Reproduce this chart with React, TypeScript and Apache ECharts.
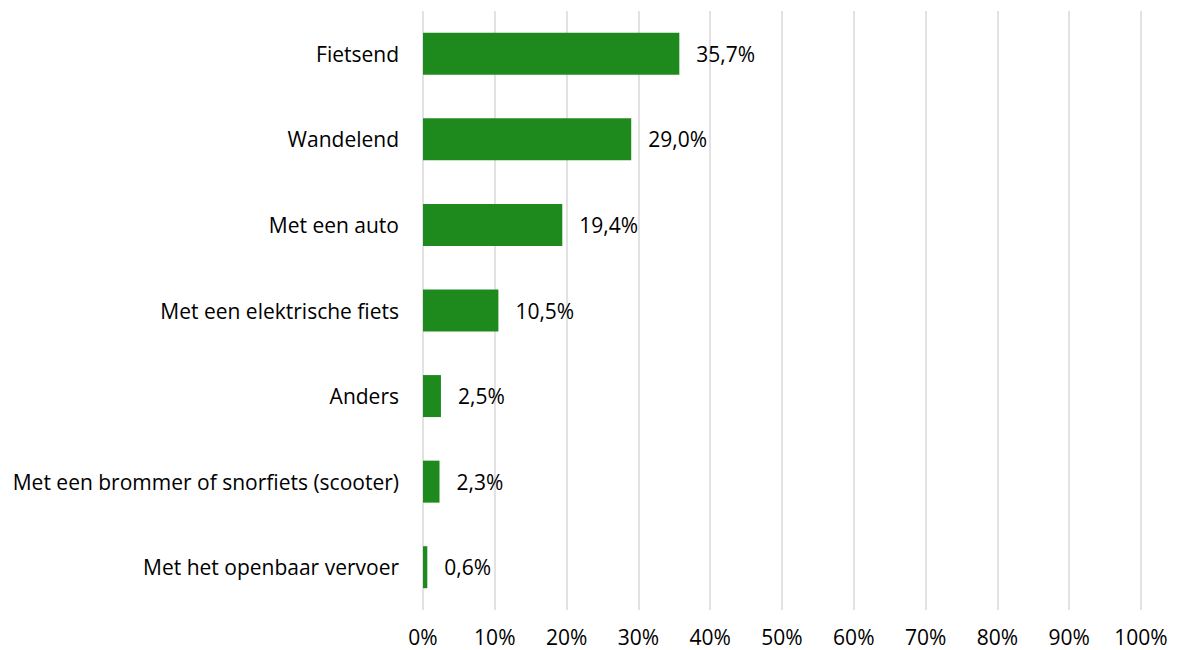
import React, { useEffect, useRef } from "react";
import * as echarts from "echarts";

const categories = [
  "Fietsend",
  "Wandelend",
  "Met een auto",
  "Met een elektrische fiets",
  "Anders",
  "Met een brommer of snorfiets (scooter)",
  "Met het openbaar vervoer",
];
const values = [35.7, 29.0, 19.4, 10.5, 2.5, 2.3, 0.6];
const FONT = "'Open Sans', sans-serif";

export default function App() {
  const ref = useRef<HTMLDivElement>(null);
  useEffect(() => {
    if (!ref.current) return;
    const chart = echarts.init(ref.current, undefined, { renderer: "svg" });
    chart.setOption({
      animation: false,
      grid: { left: 423, right: 36, top: 11, bottom: 40, containLabel: false },
      xAxis: {
        type: "value",
        min: 0,
        max: 100,
        interval: 10,
        axisLine: { show: false },
        axisTick: { show: false },
        splitLine: { show: true, lineStyle: { color: "#d9d9d9", width: 1.5 } },
        axisLabel: {
          formatter: "{value}%",
          color: "#000",
          fontFamily: FONT,
          fontSize: 21,
          margin: 16,
        },
      },
      yAxis: {
        type: "category",
        data: categories,
        inverse: true,
        axisLine: { show: false },
        axisTick: { show: false },
        splitLine: { show: false },
        axisLabel: {
          color: "#000",
          fontFamily: FONT,
          fontSize: 21,
          margin: 24,
        },
      },
      series: [
        {
          type: "bar",
          data: values,
          barWidth: 42,
          itemStyle: { color: "#1e8a1e" },
          label: {
            show: true,
            position: "right",
            distance: 17,
            color: "#000",
            fontFamily: FONT,
            fontSize: 21,
            formatter: (p: any) => p.value.toFixed(1).replace(".", ",") + "%",
          },
        },
      ],
    });
    return () => chart.dispose();
  }, []);
  return (
    <div
      ref={ref}
      style={{ position: "fixed", left: 0, top: 0, width: 1177, height: 650, background: "#fff" }}
    />
  );
}
